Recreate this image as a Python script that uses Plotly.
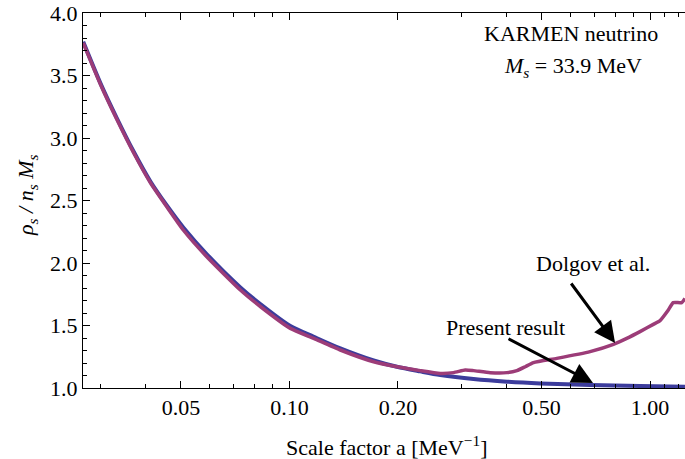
import math
import plotly.graph_objects as go

# Data
a_present = [0.0268, 0.0299, 0.0332, 0.0370, 0.0412, 0.0457, 0.0509, 0.0590, 0.0731,
             0.0832, 0.1006, 0.1168, 0.1384, 0.1712, 0.1987, 0.2306, 0.262, 0.324,
             0.401, 0.496, 0.682, 0.938, 1.25]
rho_present = [3.77, 3.44, 3.16, 2.89, 2.65, 2.46, 2.28, 2.07, 1.805,
               1.67, 1.496, 1.41, 1.317, 1.22, 1.17, 1.133, 1.104, 1.072,
               1.051, 1.037, 1.024, 1.016, 1.011]

a_dolgov = [0.0268, 0.0299, 0.0332, 0.0370, 0.0412, 0.0457, 0.0509, 0.0590, 0.0731,
            0.0832, 0.1006, 0.1168, 0.1384, 0.1712, 0.1987, 0.2306, 0.262, 0.2852,
            0.3073, 0.324, 0.3604, 0.401, 0.4274, 0.4507, 0.4752, 0.5515, 0.682,
            0.7915, 0.8619, 0.938, 1.021, 1.066, 1.124, 1.16, 1.224, 1.25]
rho_dolgov = [3.76, 3.43, 3.15, 2.88, 2.64, 2.45, 2.26, 2.05, 1.784,
              1.65, 1.477, 1.397, 1.304, 1.21, 1.17, 1.139, 1.117, 1.123,
              1.144, 1.139, 1.123, 1.123, 1.139, 1.17, 1.203, 1.237, 1.291,
              1.349, 1.397, 1.451, 1.509, 1.539, 1.624, 1.683, 1.683, 1.717]

x_major = [0.05, 0.10, 0.20, 0.50, 1.00]
x_major_text = ["0.05", "0.10", "0.20", "0.50", "1.00"]
x_minor = [0.03, 0.04, 0.06, 0.07, 0.08, 0.09, 0.3, 0.4, 0.6, 0.7, 0.8, 0.9, 1.1, 1.2]
y_major = [1.0, 1.5, 2.0, 2.5, 3.0, 3.5, 4.0]

BLUE = "#3c3c9c"
PURPLE = "#9c3c78"
FONT = "Liberation Serif, Times New Roman, DejaVu Serif, serif"

fig = go.Figure()
fig.add_trace(go.Scatter(x=a_present, y=rho_present, mode="lines",
                         line=dict(color=BLUE, width=4, shape="spline", smoothing=0.8),
                         showlegend=False))
fig.add_trace(go.Scatter(x=a_dolgov, y=rho_dolgov, mode="lines",
                         line=dict(color=PURPLE, width=3.5, shape="spline", smoothing=0.5),
                         showlegend=False))

W, H = 685, 459
L, R, T, B = 83, 0, 13, 71
pw, ph = W - L - R, H - T - B

def px(x):
    return (x - L) / pw

def py(y):
    return (H - B - y) / ph

fig.update_layout(
    width=W, height=H,
    margin=dict(l=L, r=R, t=T, b=B, autoexpand=False),
    plot_bgcolor="white", paper_bgcolor="white",
    font=dict(family=FONT, size=22, color="black"),
    xaxis=dict(type="log", range=[-1.5725, 0.097], automargin=False,
               tickvals=x_major, ticktext=x_major_text,
               ticks="inside", ticklen=7, tickcolor="black", tickwidth=1,
               showline=True, linecolor="black", linewidth=1, mirror="ticks",
               showgrid=False, zeroline=False,
               minor=dict(tickvals=x_minor, ticks="inside", ticklen=4,
                          tickcolor="black", showgrid=False),
               tickfont=dict(family=FONT, size=22)),
    yaxis=dict(range=[1.0, 4.0], tickvals=y_major, tickformat=".1f", automargin=False,
               ticks="inside", ticklen=7, tickcolor="black", tickwidth=1,
               showline=True, linecolor="black", linewidth=1, mirror=False,
               showgrid=False, zeroline=False,
               minor=dict(dtick=0.1, ticks="inside", ticklen=4,
                          tickcolor="black", showgrid=False),
               tickfont=dict(family=FONT, size=22)),
)

annos = [
    dict(text="KARMEN neutrino", x=px(571), y=py(33)),
    dict(text="<i>M<sub>s</sub></i> = 33.9 MeV", x=px(573), y=py(67)),
    dict(text="Dolgov et al.", x=px(593), y=py(263)),
    dict(text="Present result", x=px(505), y=py(327)),
    dict(text="Scale factor a [MeV<sup>−1</sup>]", x=px(386), y=py(446)),
    dict(text="<i>ρ<sub>s</sub> / n<sub>s</sub> M<sub>s</sub></i>", x=px(27), y=py(195),
         textangle=-90),
]
for a in annos:
    fig.add_annotation(xref="paper", yref="paper", showarrow=False,
                       xanchor="center", yanchor="middle",
                       font=dict(family=FONT, size=22, color="black"), **a)

# arrows pointing at the curves
fig.add_annotation(x=math.log10(0.80), y=1.36, xref="x", yref="y",
                   ax=-45, ay=-61, showarrow=True, arrowhead=2, arrowsize=1.4,
                   arrowwidth=3, arrowcolor="black", text="")
fig.add_annotation(x=math.log10(0.695), y=1.04, xref="x", yref="y",
                   ax=-86, ay=-45, showarrow=True, arrowhead=2, arrowsize=1.4,
                   arrowwidth=3, arrowcolor="black", text="")

fig.write_html("out.html", config={"displayModeBar": False},
               post_script="document.body.style.margin='0';document.body.style.overflow='hidden';")
